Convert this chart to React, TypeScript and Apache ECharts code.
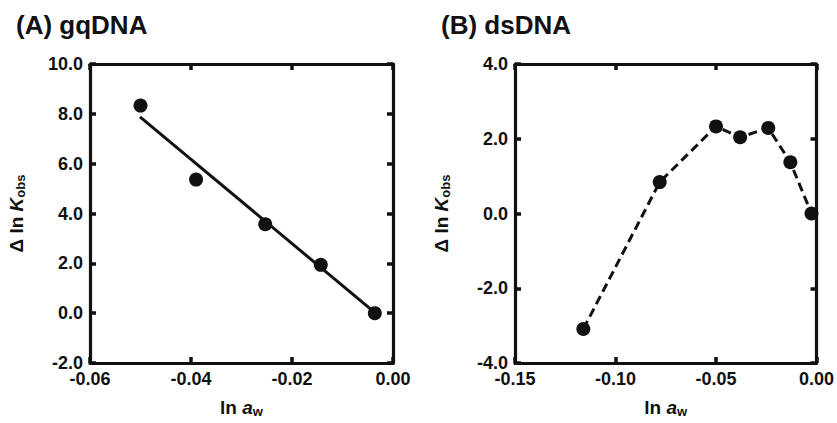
import React, { useEffect, useRef } from "react";
import * as echarts from "echarts";

// Panel A: gqDNA
const gqX = [-0.05, -0.039, -0.0253, -0.0143, -0.0036];
const gqY = [8.33, 5.36, 3.57, 1.94, 0.0];
// linear fit line endpoints (panel A)
const fitX = [-0.0501, -0.004];
const fitY = [7.88, 0.09];

// Panel B: dsDNA
const dsX = [-0.116, -0.078, -0.05, -0.038, -0.024, -0.013, -0.0025];
const dsY = [-3.09, 0.84, 2.33, 2.04, 2.29, 1.37, 0.0];

const titles = ["(A) gqDNA", "(B) dsDNA"];

const FONT = "'Liberation Sans', Arial, Helvetica, sans-serif";
const INK = "#111111";

const zip = (xs: number[], ys: number[]) => xs.map((x, i) => [x, ys[i]]);

const richName = () => ({
  n: { fontSize: 19, fontWeight: "bold", fontFamily: FONT, color: INK, lineHeight: 22 },
  i: { fontSize: 19, fontWeight: "bold", fontStyle: "italic", fontFamily: FONT, color: INK, lineHeight: 22 },
  s: { fontSize: 13, fontWeight: "bold", fontFamily: FONT, color: INK, lineHeight: 13, verticalAlign: "bottom" },
});

export default function App() {
  const ref = useRef<HTMLDivElement>(null);

  useEffect(() => {
    if (!ref.current) return;
    const chart = echarts.init(ref.current, undefined, { renderer: "svg" });

    const line = () => ({ show: true, onZero: false, lineStyle: { color: INK, width: 3.2, opacity: 1 } });
    const tick = () => ({ show: true, inside: true, length: 6, lineStyle: { color: INK, width: 3.5, opacity: 1 } });
    const lbl = (digits: number, margin: number) => ({
      show: true,
      margin,
      color: INK,
      fontSize: 18,
      fontWeight: "bold",
      fontFamily: FONT,
      formatter: (v: number) => (Math.abs(v) < 1e-9 ? 0 : v).toFixed(digits),
    });

    const mkX = (gridIndex: number, min: number, max: number, interval: number) => [
      {
        type: "value",
        gridIndex,
        position: "bottom",
        min,
        max,
        interval,
        axisLine: line(),
        axisTick: tick(),
        splitLine: { show: false },
        axisLabel: lbl(2, 7),
        name: "{n|ln }{i|a}{s|w}",
        nameLocation: "middle",
        nameGap: 33,
        nameTextStyle: { rich: richName() },
      },
      {
        type: "value",
        gridIndex,
        position: "top",
        min,
        max,
        interval,
        axisLine: line(),
        axisTick: tick(),
        splitLine: { show: false },
        axisLabel: { show: false },
      },
    ];
    const mkY = (gridIndex: number, min: number, max: number, interval: number) => [
      {
        type: "value",
        gridIndex,
        position: "left",
        min,
        max,
        interval,
        axisLine: line(),
        axisTick: tick(),
        splitLine: { show: false },
        axisLabel: lbl(1, 7),
        name: "{n|Δ ln }{i|K}{s|obs}",
        nameLocation: "middle",
        nameRotate: 90,
        nameGap: 63,
        nameTextStyle: { rich: richName() },
      },
      {
        type: "value",
        gridIndex,
        position: "right",
        min,
        max,
        interval,
        axisLine: line(),
        axisTick: tick(),
        splitLine: { show: false },
        axisLabel: { show: false },
      },
    ];

    chart.setOption({
      animation: false,
      backgroundColor: "#ffffff",
      title: titles.map((t, i) => ({
        text: t,
        left: i === 0 ? 11 : 436,
        top: 7,
        textStyle: { fontSize: 26, fontWeight: "bold", fontFamily: FONT, color: INK },
      })),
      grid: [
        { left: 90, right: 444, top: 64, bottom: 56, containLabel: false },
        { left: 515, right: 20, top: 64, bottom: 55, containLabel: false },
      ],
      xAxis: [...mkX(0, -0.06, 0, 0.02), ...mkX(1, -0.15, 0, 0.05)],
      yAxis: [...mkY(0, -2, 10, 2), ...mkY(1, -4, 4, 2)],
      series: [
        {
          type: "line",
          xAxisIndex: 0,
          yAxisIndex: 0,
          data: zip(fitX, fitY),
          symbol: "none",
          lineStyle: { color: INK, width: 3 },
          z: 2,
        },
        {
          type: "scatter",
          xAxisIndex: 0,
          yAxisIndex: 0,
          data: zip(gqX, gqY),
          symbol: "circle",
          symbolSize: 14,
          itemStyle: { color: INK, opacity: 1 },
          z: 3,
        },
        {
          type: "line",
          xAxisIndex: 2,
          yAxisIndex: 2,
          data: zip(dsX, dsY),
          symbol: "none",
          lineStyle: { color: INK, width: 3, type: [9, 5] },
          z: 2,
        },
        {
          type: "scatter",
          xAxisIndex: 2,
          yAxisIndex: 2,
          data: zip(dsX, dsY),
          symbol: "circle",
          symbolSize: 14,
          itemStyle: { color: INK, opacity: 1 },
          z: 3,
        },
      ],
    });

    return () => chart.dispose();
  }, []);

  return (
    <div
      ref={ref}
      style={{ position: "absolute", left: 0, top: 0, width: 837, height: 423, background: "#fff" }}
    />
  );
}
